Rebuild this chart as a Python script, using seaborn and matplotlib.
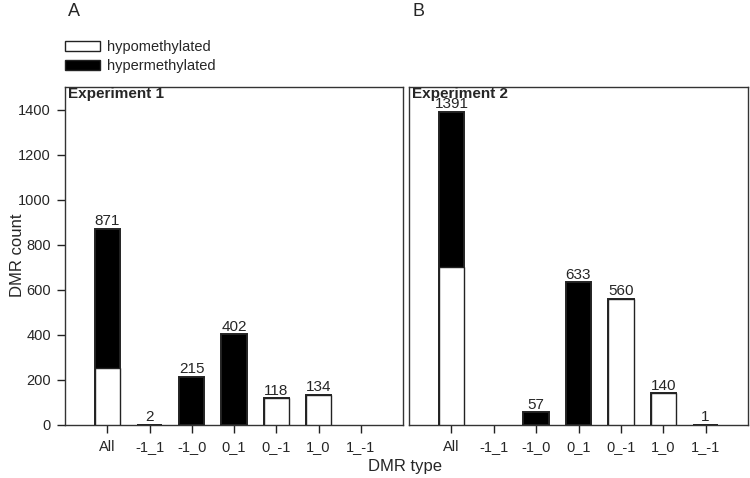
import pandas as pd
import matplotlib.pyplot as plt
import matplotlib.patches as mpatches
import seaborn as sns

# DMR counts per type, split by direction
dmr_types = ["All", "-1_1", "-1_0", "0_1", "0_-1", "1_0", "1_-1"]
exp1_hypo = [252, 0, 0, 0, 118, 134, 0]
exp1_hyper = [619, 2, 215, 402, 0, 0, 0]
exp2_hypo = [700, 0, 0, 0, 560, 140, 0]
exp2_hyper = [691, 0, 57, 633, 0, 0, 1]
y_ticks = [0, 200, 400, 600, 800, 1000, 1200, 1400]

sns.set_style("ticks")
plt.rcParams["font.family"] = ["Liberation Sans", "DejaVu Sans"]

fig = plt.figure(figsize=(7.5, 4.78), dpi=100)
ax1 = fig.add_axes([65 / 750, 1 - 425 / 478, 338 / 750, 338 / 478])
ax2 = fig.add_axes([409 / 750, 1 - 425 / 478, 339 / 750, 338 / 478])

edge = "#222222"
panels = [(ax1, exp1_hypo, exp1_hyper, "Experiment 1", "A"),
          (ax2, exp2_hypo, exp2_hyper, "Experiment 2", "B")]

for ax, hypo, hyper, title, letter in panels:
    df = pd.DataFrame({"type": dmr_types, "hypo": hypo, "hyper": hyper})
    df["total"] = df["hypo"] + df["hyper"]
    # total in black, hypomethylated part drawn over it in white
    sns.barplot(data=df[df["total"] > 0], x="type", y="total", order=dmr_types, color="black",
                edgecolor=edge, linewidth=1.4, width=0.6, saturation=1, ax=ax)
    sns.barplot(data=df[df["hypo"] > 0], x="type", y="hypo", order=dmr_types, color="white",
                edgecolor=edge, linewidth=1.0, width=0.6, saturation=1, ax=ax)
    for p in ax.patches:
        p.set_zorder(3)
    for i, v in enumerate(df["total"]):
        if v > 0:
            ax.text(i, v + 2, str(v), ha="center", va="bottom", fontsize=11)
    ax.set_xlim(-1, 7)
    ax.set_ylim(0, 1500)
    ax.set_xlabel("")
    ax.set_ylabel("")
    for s in ax.spines.values():
        s.set_visible(True)
        s.set_color("#333333")
        s.set_linewidth(1.0)
    ax.tick_params(axis="x", bottom=True, direction="out", length=6, width=1.0,
                   color="#222222", labelsize=10.5, pad=5)
    ax.text(0.01, 1.0, title, transform=ax.transAxes, ha="left", va="top",
            fontsize=11, fontweight="bold")
    fig.text(ax.get_position().x0 + 0.004, 1 - 12 / 478, letter, ha="left", va="center", fontsize=13)

ax1.set_yticks(y_ticks)
ax1.tick_params(axis="y", left=True, direction="out", length=6, width=1.0,
                color="#222222", labelsize=10.5, pad=4)
ax2.set_yticks([])

fig.text(18 / 750, 1 - 255 / 478, "DMR count", ha="center", va="center",
         rotation=90, fontsize=12)
fig.text(405 / 750, 1 - 466 / 478, "DMR type", ha="center", va="center", fontsize=12)

handles = [mpatches.Patch(facecolor="white", edgecolor=edge, label="hypomethylated"),
           mpatches.Patch(facecolor="black", edgecolor=edge, label="hypermethylated")]
fig.legend(handles=handles, loc="upper left", bbox_to_anchor=(65 / 750, 1 - 40 / 478),
           frameon=False, fontsize=10.5, handlelength=2.4, handleheight=0.75,
           labelspacing=0.35, handletextpad=0.5, borderpad=0, borderaxespad=0)

fig.savefig("out.png", dpi=100)
